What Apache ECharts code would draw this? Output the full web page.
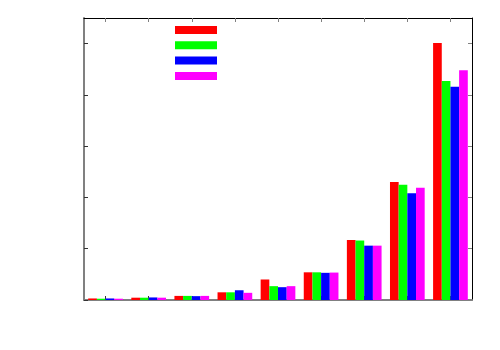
<!DOCTYPE html>
<html><head><meta charset="utf-8">
<script src="https://cdn.jsdelivr.net/npm/echarts@6/dist/echarts.min.js"></script>
<style>html,body{margin:0;padding:0;background:#fff}#c{width:500px;height:350px}</style>
</head><body><div id="c"></div>
<script>
var categories = ['1','2','3','4','5','6','7','8','9'];
var seriesNames = ['s1','s2','s3','s4'];
var seriesColors = ['#ff0000','#00ff00','#0000ff','#ff00ff'];
var yTicks = [0, 1, 2, 3, 4, 5];
var s1 = [0.03, 0.045, 0.08, 0.15, 0.40, 0.54, 1.17, 2.30, 5.01];
var s2 = [0.025, 0.045, 0.08, 0.15, 0.27, 0.54, 1.16, 2.25, 4.27];
var s3 = [0.03, 0.05, 0.075, 0.19, 0.25, 0.53, 1.06, 2.08, 4.16];
var s4 = [0.025, 0.045, 0.08, 0.14, 0.27, 0.535, 1.06, 2.19, 4.48];
var seriesData = [s1, s2, s3, s4];

var chart = echarts.init(document.getElementById('c'), null, {renderer:'canvas'});
var gray = '#808080';
chart.setOption({
  animation: false,
  backgroundColor: '#fff',
  grid: {left: 84, top: 18, width: 388, height: 282, containLabel: false},
  legend: {
    orient: 'vertical', left: 175, top: 26, padding: 0,
    itemWidth: 42, itemHeight: 8, itemGap: 7.3,
    icon: 'rect',
    formatter: function(){ return ''; },
    data: seriesNames,
    selectedMode: false
  },
  xAxis: [
    {type: 'category', data: categories, position: 'bottom', boundaryGap: true,
     axisLine: {onZero: false, lineStyle: {color: gray, width: 2}},
     axisTick: {show: true, alignWithLabel: true, inside: true, length: 4, lineStyle: {color: '#333'}},
     axisLabel: {show: false}, splitLine: {show: false}},
    {type: 'category', data: categories, position: 'top', boundaryGap: true,
     axisLine: {onZero: false, lineStyle: {color: '#000', width: 1}},
     axisTick: {show: true, alignWithLabel: true, inside: true, length: 4, lineStyle: {color: gray}},
     axisLabel: {show: false}, splitLine: {show: false}}
  ],
  yAxis: [
    {type: 'value', min: 0, max: 5.5, interval: 1, position: 'left',
     axisLine: {show: true, onZero: false, lineStyle: {color: gray, width: 2}},
     axisTick: {show: true, inside: true, length: 4, customValues: yTicks, lineStyle: {color: '#333'}},
     axisLabel: {show: false}, splitLine: {show: false}},
    {type: 'value', min: 0, max: 5.5, interval: 1, position: 'right',
     axisLine: {show: true, onZero: false, lineStyle: {color: '#000', width: 1}},
     axisTick: {show: true, inside: true, length: 4, customValues: yTicks, lineStyle: {color: gray}},
     axisLabel: {show: false}, splitLine: {show: false}}
  ],
  series: seriesNames.map(function(n, i){
    return {name: n, type: 'bar', data: seriesData[i], xAxisIndex: 0, yAxisIndex: 0,
      barGap: '0%', barCategoryGap: '19.5%',
      itemStyle: {color: seriesColors[i]}};
  })
});
</script></body></html>
